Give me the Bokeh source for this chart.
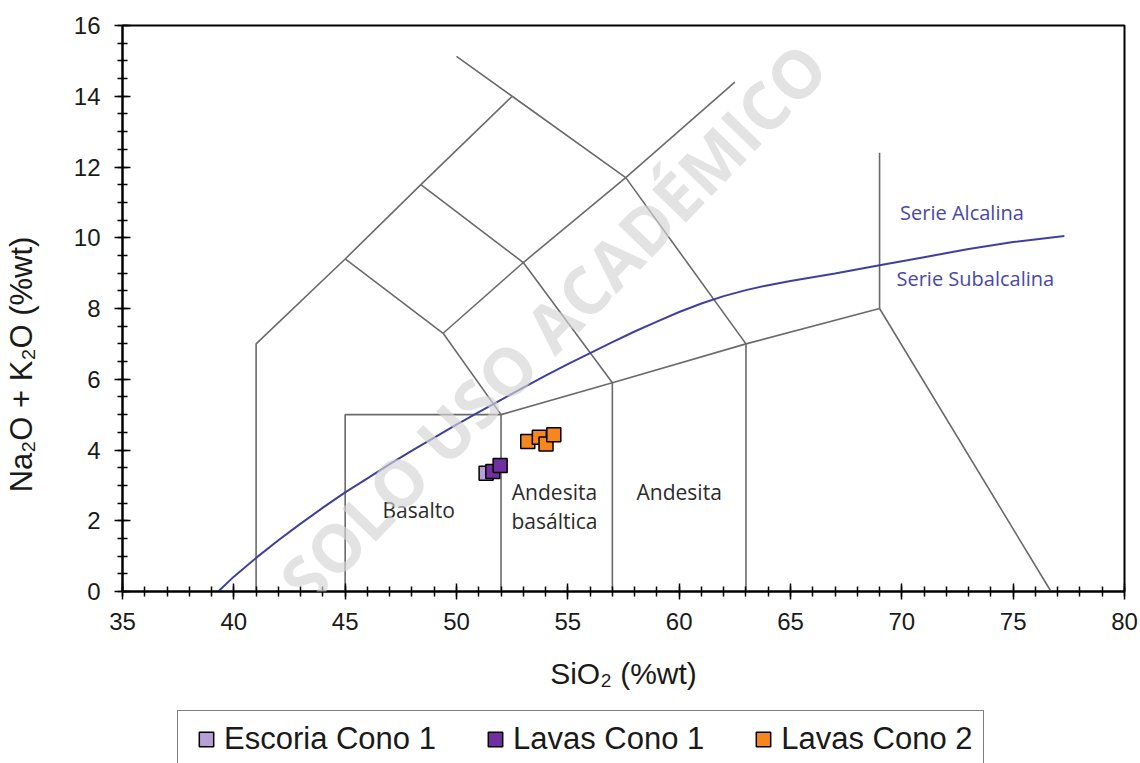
from bokeh.plotting import figure
from bokeh.layouts import column
from bokeh.models import Range1d, Legend, LegendItem, Label, SingleIntervalTicker
from bokeh.embed import file_html
from bokeh.resources import INLINE
from bokeh.core.properties import value

# ---- sample data (SiO2 wt%, Na2O+K2O wt%) ----
escoria_sio2 = [51.33]
escoria_alk = [3.34]
lavas1_sio2 = [51.63, 51.96]
lavas1_alk = [3.39, 3.56]
lavas2_sio2 = [53.20, 53.72, 54.02, 54.37]
lavas2_alk = [4.24, 4.36, 4.17, 4.43]

# ---- alkaline / subalkaline divide ----
div_sio2 = [39.3, 40, 41, 42, 43, 44, 45, 46, 47, 48, 49, 50, 51, 52, 53, 54, 55,
            56, 57, 58, 59, 60, 61, 62, 63, 64, 65, 67, 69, 71, 73, 75, 77.3]
div_alk = [0, 0.42, 0.95, 1.45, 1.92, 2.37, 2.8, 3.2, 3.6, 3.98, 4.35, 4.72, 5.07,
           5.42, 5.76, 6.1, 6.43, 6.74, 7.05, 7.35, 7.63, 7.9, 8.14, 8.35, 8.52,
           8.66, 8.78, 8.99, 9.22, 9.45, 9.68, 9.88, 10.05]

# ---- TAS field boundaries ----
tas_xs = [
    [41, 41, 45, 48.4, 52.5],
    [50, 52.5, 57.6, 63],
    [45, 49.4, 52],
    [48.4, 53, 57],
    [49.4, 53, 57.6, 62.5],
    [45, 45, 52, 52],
    [52, 57, 63, 69],
    [57, 57],
    [63, 63],
    [69, 69, 76.7],
]
tas_ys = [
    [0, 7, 9.4, 11.5, 14],
    [15.13, 14, 11.7, 7],
    [9.4, 7.3, 5],
    [11.5, 9.3, 5.9],
    [7.3, 9.3, 11.7, 14.4],
    [0, 5, 5, 0],
    [5, 5.9, 7, 8],
    [0, 5.9],
    [0, 7],
    [12.4, 8, 0],
]

field_names = ["Basalto", "Andesita", "basáltica", "Andesita"]
field_x = [48.3, 54.4, 54.4, 60.0]
field_y = [2.3, 2.8, 2.0, 2.8]

series_names = ["Escoria Cono 1", "Lavas Cono 1", "Lavas Cono 2"]
series_colors = ["#b49fd6", "#7030a0", "#f7861f"]
series_x = [escoria_sio2, lavas1_sio2, lavas2_sio2]
series_y = [escoria_alk, lavas1_alk, lavas2_alk]

p = figure(width=1140, height=705, output_backend="svg", toolbar_location=None,
           x_range=Range1d(35, 80), y_range=Range1d(0, 16),
           min_border_left=121, min_border_right=16, min_border_top=25,
           min_border_bottom=114)
p.xgrid.visible = False
p.ygrid.visible = False
p.outline_line_color = "black"
p.outline_line_width = 2
p.background_fill_color = "white"
p.border_fill_color = "white"

p.xaxis.ticker = SingleIntervalTicker(interval=5, num_minor_ticks=5)
p.yaxis.ticker = SingleIntervalTicker(interval=2, num_minor_ticks=4)
for ax in (p.xaxis, p.yaxis):
    ax.axis_line_color = "black"
    ax.axis_line_width = 2
    ax.major_tick_line_color = "black"
    ax.major_tick_line_width = 1.5
    ax.minor_tick_line_color = "black"
    ax.minor_tick_line_width = 1.5
    ax.major_tick_in = 8
    ax.major_tick_out = 8
    ax.minor_tick_in = 5
    ax.minor_tick_out = 5
    ax.major_label_text_font = "Liberation Sans"
    ax.major_label_text_font_size = "24px"
    ax.major_label_text_color = "#1a1a1a"
    ax.axis_label_text_font = "Liberation Sans"
    ax.axis_label_text_font_style = "normal"
    ax.axis_label_text_color = "#1a1a1a"
p.xaxis.axis_label = "SiO₂ (%wt)"
p.xaxis.axis_label_text_font_size = "30px"
p.yaxis.axis_label = "Na₂O + K₂O (%wt)" + "\u00a0" * 13
p.yaxis.axis_label_text_font_size = "31px"
p.xaxis.major_label_standoff = 13
p.xaxis.axis_label_standoff = 24
p.yaxis.major_label_standoff = 14
p.yaxis.axis_label_standoff = 32

p.multi_line(tas_xs, tas_ys, line_color="#6a6a6a", line_width=1.6)
p.line(div_sio2, div_alk, line_color="#3f3fa0", line_width=2)

p.text(field_x, field_y, text=field_names, text_font=value("Open Sans"),
       text_font_size="21px", text_color="#2b2b2b", text_align="center",
       text_baseline="middle")
p.text([72.7], [10.7], text=["Serie Alcalina"], text_font=value("Open Sans"),
       text_font_size="20px", text_color="#4848a8", text_align="center",
       text_baseline="middle")
p.text([73.3], [8.85], text=["Serie Subalcalina"], text_font=value("Open Sans"),
       text_font_size="20px", text_color="#4848a8", text_align="center",
       text_baseline="middle")

for xs, ys, c in zip(series_x, series_y, series_colors):
    p.scatter(xs, ys, marker="square", size=14, fill_color=c,
              line_color="black", line_width=1.5)

wm = Label(x=54.3, y=7.6, text="SOLO USO ACADÉMICO", angle=0.80,
           text_align="center", text_baseline="middle",
           text_font="Open Sans", text_font_size="66px", text_font_style="bold",
           text_color="#d4d4d4", text_alpha=0.65)
p.add_layout(wm)

# ---- legend strip below the chart (same series, drawn out of view) ----
lg = figure(width=1140, height=58, output_backend="svg", toolbar_location=None,
            x_range=Range1d(0, 1), y_range=Range1d(0, 1),
            x_axis_type=None, y_axis_type=None, min_border=0)
lg.xgrid.visible = False
lg.ygrid.visible = False
lg.outline_line_color = None
lg.background_fill_color = "white"
lg.border_fill_color = "white"

items = []
for name, xs, ys, c in zip(series_names, series_x, series_y, series_colors):
    rr = lg.scatter(xs, ys, marker="square", size=14, fill_color=c,
                    line_color="black", line_width=1.5)
    items.append(LegendItem(label=name, renderers=[rr]))

legend = Legend(items=items, orientation="horizontal", location=(55, -5),
                border_line_color="black", border_line_width=1.5,
                label_text_font="Liberation Sans", label_text_font_size="31px",
                label_text_color="#1a1a1a",
                glyph_width=36, glyph_height=36, label_standoff=-3,
                spacing=41, padding=10, margin=0)
lg.add_layout(legend)

layout = column(p, lg, spacing=0)
open("out.html", "w").write(file_html(layout, INLINE))
